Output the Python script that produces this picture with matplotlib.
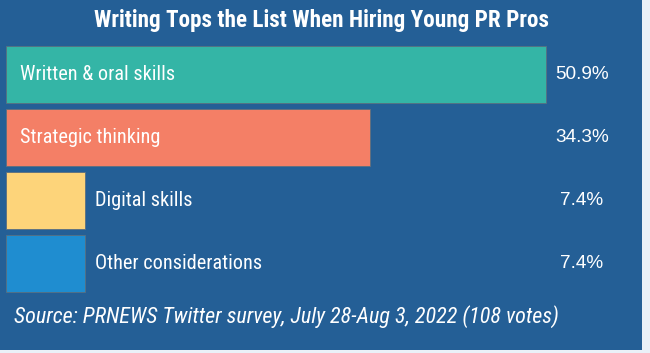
import matplotlib.pyplot as plt
from matplotlib.patches import Rectangle
from matplotlib import font_manager

categories = ['Written & oral skills', 'Strategic thinking', 'Digital skills', 'Other considerations']
values = [50.9, 34.3, 7.4, 7.4]
value_labels = ['50.9%', '34.3%', '7.4%', '7.4%']
colors = ['#34b5a6', '#f47f66', '#fdd47a', '#1f8dd0']

title = 'Writing Tops the List When Hiring Young PR Pros'
source = 'Source: PRNEWS Twitter survey, July 28-Aug 3, 2022 (108 votes)'

names = set(f.name for f in font_manager.fontManager.ttflist)
narrow = 'Liberation Sans'
for cand in ['Liberation Sans Narrow', 'Roboto Condensed', 'Open Sans Condensed', 'Noto Sans Condensed']:
    if cand in names:
        narrow = cand
        break

W, H = 650, 353
bg = '#245f96'
fig = plt.figure(figsize=(W / 100, H / 100), dpi=100, facecolor='#eaf1f8')
fig.patches.append(Rectangle((0, 3 / H), 642 / W, 1 - 3 / H, transform=fig.transFigure,
                             facecolor=bg, edgecolor='none', zorder=-5))
renderer = fig.canvas.get_renderer()


def fit(txt, width_px):
    # shrink/grow font so the text spans the width seen in the reference
    fs = txt.get_fontsize()
    w = txt.get_window_extent(renderer).width
    txt.set_fontsize(fs * width_px / w)


# axes: x from 6px, 60% -> 636.5px ; rows 63px apart starting at y=43px
ax = fig.add_axes([6 / W, (H - 295) / H, 636.5 / W, 252 / H])
ax.set_facecolor('none')
ax.set_xlim(0, 60)
ax.set_ylim(3.5, -0.5)
ax.axis('off')

ypos = list(range(len(categories)))
ax.barh(ypos, values, height=0.9, color=colors, edgecolor='#5a6f80', linewidth=0.6)

cat_texts = []
for i, (cat, v, lab) in enumerate(zip(categories, values, value_labels)):
    x = 1.3 if v > 20 else v + 0.95
    t = ax.text(x, i, cat, color='white', fontsize=15, family=narrow, va='center', ha='left')
    cat_texts.append(t)
    vt = ax.text(54.3, i, lab, color='white', fontsize=14, family='Liberation Sans',
                 va='center', ha='center')
    if i == 0:
        fit(vt, 54)
        vfs = vt.get_fontsize()
    vt.set_fontsize(vfs)

fit(cat_texts[3], 167)
for t in cat_texts:
    t.set_fontsize(cat_texts[3].get_fontsize())

tt = fig.text(322 / W, 1 - 21 / H, title, color='white', fontsize=17, fontweight='bold',
              family=narrow, ha='center', va='center')
fit(tt, 455)
st = fig.text(14 / W, 1 - 317 / H, source, color='white', fontsize=13, style='italic',
              family=narrow, ha='left', va='center')
fit(st, 546)

fig.savefig('out.png', dpi=100, facecolor=fig.get_facecolor())
